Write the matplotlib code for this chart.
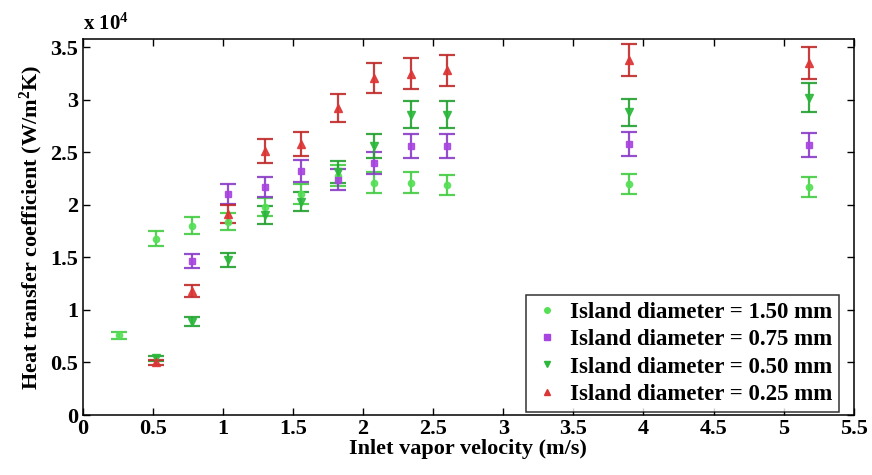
import matplotlib
matplotlib.use("Agg")
import matplotlib.pyplot as plt
import numpy as np

plt.rcParams['font.family'] = ['Liberation Serif', 'DejaVu Serif']
plt.rcParams['font.weight'] = 'bold'
plt.rcParams['mathtext.fontset'] = 'custom'
plt.rcParams['mathtext.rm'] = 'Liberation Serif:bold'
plt.rcParams['mathtext.it'] = 'Liberation Serif:bold'
plt.rcParams['mathtext.bf'] = 'Liberation Serif:bold'
plt.rcParams['mathtext.default'] = 'regular'

# ---- data (heat transfer coefficient in units of 1e4 W/m^2K) ----
v_150 = [0.26, 0.52, 0.78, 1.04, 1.30, 1.56, 1.82, 2.08, 2.34, 2.60, 3.90, 5.18]
h_150 = [0.76, 1.68, 1.80, 1.84, 1.98, 2.10, 2.28, 2.21, 2.21, 2.19, 2.20, 2.17]

v_075 = [0.78, 1.04, 1.30, 1.56, 1.82, 2.08, 2.34, 2.60, 3.90, 5.18]
h_075 = [1.47, 2.10, 2.17, 2.32, 2.24, 2.40, 2.56, 2.56, 2.58, 2.57]

v_050 = [0.52, 0.78, 1.04, 1.30, 1.56, 1.82, 2.08, 2.34, 2.60, 3.90, 5.18]
h_050 = [0.54, 0.89, 1.48, 1.90, 2.03, 2.31, 2.56, 2.86, 2.86, 2.88, 3.02]

v_025 = [0.52, 0.78, 1.04, 1.30, 1.56, 1.82, 2.08, 2.34, 2.60, 3.90, 5.18]
h_025 = [0.50, 1.18, 1.91, 2.51, 2.58, 2.92, 3.21, 3.25, 3.28, 3.38, 3.35]

REL_ERR = 0.045  # relative measurement uncertainty shown by the error bars

labels = ['Island diameter = 1.50 mm', 'Island diameter = 0.75 mm',
          'Island diameter = 0.50 mm', 'Island diameter = 0.25 mm']

series = [
    (v_150, h_150, 'o', '#55e055', '#44cc44', 4.5),
    (v_075, h_075, 's', '#a844e0', '#8a3cc8', 5),
    (v_050, h_050, 'v', '#2cb83c', '#23a030', 6),
    (v_025, h_025, '^', '#dd3535', '#c02a2a', 6),
]

FS = 16

fig = plt.figure(figsize=(8.72, 4.75), dpi=100)
ax = fig.add_axes([0.0948, 0.1263, 0.979 - 0.0948, 0.918 - 0.1263])

for (v, h, m, fc, ec, ms), lab in zip(series, labels):
    v = np.array(v)
    h = np.array(h) * 1e4
    ax.errorbar(v, h, yerr=REL_ERR * h, fmt=m, color=fc, ms=ms,
                mec=fc, mfc=fc, ecolor=ec, elinewidth=1.6,
                capsize=6, capthick=1.6, alpha=0.9, label=lab)

ax.set_xlim(0, 5.5)
ax.set_ylim(0, 3.58e4)
ax.set_xticks(np.arange(0, 5.51, 0.5))
ax.set_xticklabels(['0', '0.5', '1', '1.5', '2', '2.5', '3', '3.5', '4', '4.5', '5', '5.5'])
ax.set_yticks(np.arange(0, 3.51e4, 0.5e4))
ax.set_yticklabels(['0', '0.5', '1', '1.5', '2', '2.5', '3', '3.5'])
ax.tick_params(direction='in', top=True, right=True, length=5, width=1,
               labelsize=FS, pad=3)
for sp in ax.spines.values():
    sp.set_linewidth(1.1)

ax.set_xlabel('Inlet vapor velocity (m/s)', fontsize=FS, fontweight='bold', labelpad=0)
ax.set_ylabel('Heat transfer coefficient (W/m$^{2}$K)', fontsize=FS,
              fontweight='bold', labelpad=4)
ax.text(0.0, 1.01, 'x 10$^{4}$', transform=ax.transAxes, fontsize=FS - 1,
        fontweight='bold', ha='left', va='bottom')

leg_handles = [plt.Line2D([], [], ls='none', marker=s[2], color=s[3], ms=4)
               for s in series]
leg = ax.legend(leg_handles, labels, loc='lower right',
                bbox_to_anchor=(0.981, 0.009), borderaxespad=0,
                fontsize=16.5, frameon=True, fancybox=False, edgecolor='black',
                handlelength=1.2, handletextpad=0.4, labelspacing=0.27,
                borderpad=0.3)
leg.get_frame().set_linewidth(1.1)
for t in leg.get_texts():
    t.set_fontweight('bold')

fig.savefig('out.png', dpi=100)
